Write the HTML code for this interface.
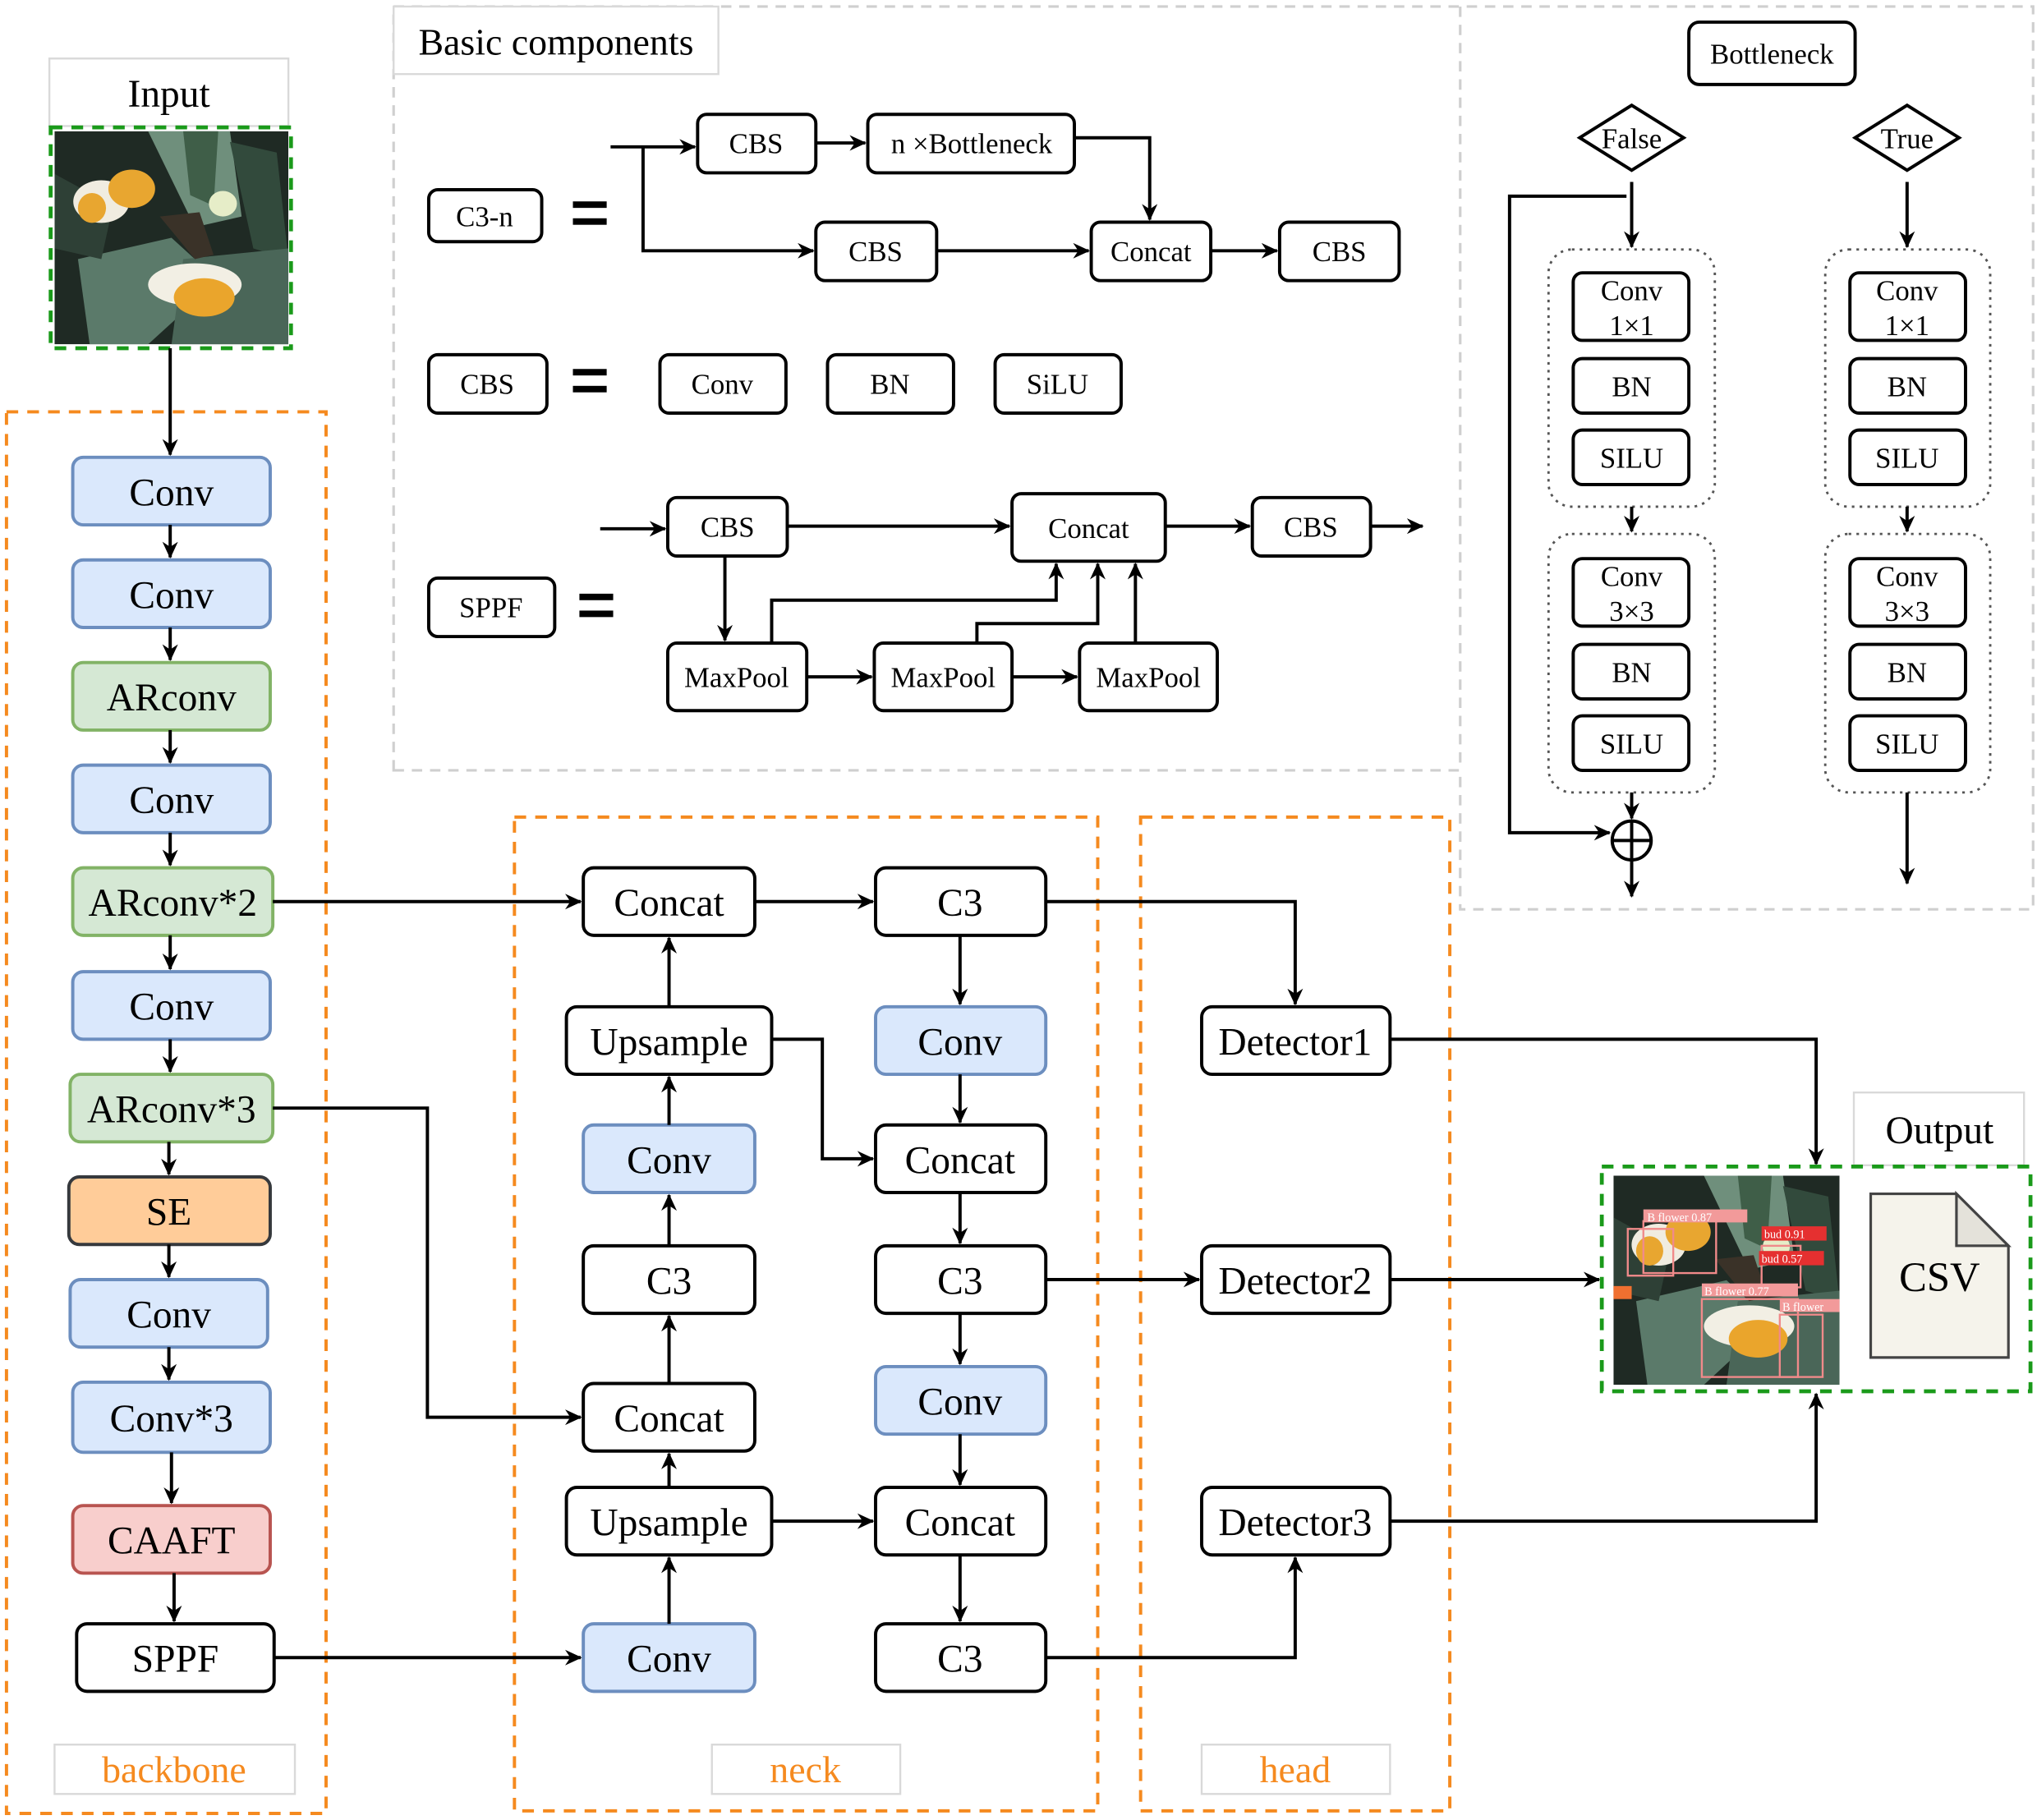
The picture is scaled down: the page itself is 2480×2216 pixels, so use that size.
<!DOCTYPE html>
<html><head><meta charset="utf-8"><style>
html,body{margin:0;padding:0;background:#fff;}
svg{display:block;}
text{font-family:"Liberation Serif",serif;fill:#000;}
</style></head><body>
<svg width="2480" height="2216" viewBox="0 0 1568 1401" xmlns="http://www.w3.org/2000/svg">
<defs>
<marker id="a" markerWidth="14" markerHeight="14" refX="12" refY="6" orient="auto" markerUnits="userSpaceOnUse">
<path d="M0,0 L13,6 L0,12 L4,6 Z" fill="#000"/>
</marker>
<symbol id="photo" viewBox="0 0 100 100" preserveAspectRatio="none">
<rect width="100" height="100" fill="#1f2a24"/>
<path d="M40,0 L75,0 L80,40 L60,45 Z" fill="#6f8f7c"/>
<path d="M55,0 L70,0 L68,35 L58,30 Z" fill="#3f5e48"/>
<path d="M75,5 L95,10 L100,60 L85,55 Z" fill="#324a3c"/>
<path d="M10,60 L50,50 L70,70 L40,100 L15,100 Z" fill="#5b7a6a"/>
<path d="M55,60 L100,55 L100,100 L50,100 Z" fill="#4a6658"/>
<path d="M0,20 L25,35 L20,60 L0,55 Z" fill="#2e4036"/>
<ellipse cx="20" cy="33" rx="12" ry="10" fill="#f0ece0"/>
<ellipse cx="16" cy="36" rx="6" ry="7" fill="#e8a630"/>
<ellipse cx="33" cy="27" rx="10" ry="9" fill="#e8a630"/>
<ellipse cx="72" cy="34" rx="6" ry="6" fill="#e6edc8"/>
<ellipse cx="60" cy="72" rx="20" ry="10" fill="#f2efe4"/>
<ellipse cx="64" cy="78" rx="13" ry="9" fill="#eaa52c"/>
<path d="M45,40 L62,38 L68,58 L60,60 Z" fill="#3a3228"/>
</symbol>
</defs>

<!-- Basic components region -->
<path d="M303,593 L303,5 L1565,5 L1565,700 L1124,700 L1124,593 Z" fill="none" stroke="#cfcfcf" stroke-width="2" stroke-dasharray="8,6"/>
<line x1="1124" y1="5" x2="1124" y2="593" stroke="#cfcfcf" stroke-width="2" stroke-dasharray="8,6"/>
<rect x="303" y="5" width="250" height="52" fill="#fff" stroke="#d9d9d9" stroke-width="1.5"/>
<text x="428" y="42" font-size="29" text-anchor="middle">Basic components</text>

<g stroke="#000" stroke-width="2.5" fill="#fff">
<rect x="330" y="146" width="87" height="40" rx="7"/>
<rect x="537" y="88" width="91" height="45" rx="7"/>
<rect x="668" y="88" width="159" height="45" rx="7"/>
<rect x="628" y="171" width="93" height="45" rx="7"/>
<rect x="840" y="171" width="92" height="45" rx="7"/>
<rect x="985" y="171" width="92" height="45" rx="7"/>
<rect x="330" y="273" width="91" height="45" rx="7"/>
<rect x="508" y="273" width="97" height="45" rx="7"/>
<rect x="637" y="273" width="97" height="45" rx="7"/>
<rect x="766" y="273" width="97" height="45" rx="7"/>
<rect x="330" y="445" width="97" height="45" rx="7"/>
<rect x="514" y="383" width="92" height="45" rx="7"/>
<rect x="779" y="380" width="118" height="52" rx="7"/>
<rect x="964" y="383" width="91" height="45" rx="7"/>
<rect x="514" y="495" width="107" height="52" rx="7"/>
<rect x="673" y="495" width="106" height="52" rx="7"/>
<rect x="831" y="495" width="106" height="52" rx="7"/>
</g>
<g font-size="22" text-anchor="middle">
<text x="373" y="174">C3-n</text>
<text x="582" y="118">CBS</text>
<text x="748" y="118">n ×Bottleneck</text>
<text x="674" y="201">CBS</text>
<text x="886" y="201">Concat</text>
<text x="1031" y="201">CBS</text>
<text x="375" y="303">CBS</text>
<text x="556" y="303">Conv</text>
<text x="685" y="303">BN</text>
<text x="814" y="303">SiLU</text>
<text x="378" y="475">SPPF</text>
<text x="560" y="413">CBS</text>
<text x="838" y="414">Concat</text>
<text x="1009" y="413">CBS</text>
<text x="567" y="529">MaxPool</text>
<text x="726" y="529">MaxPool</text>
<text x="884" y="529">MaxPool</text>
</g>
<g fill="#000">
<rect x="441" y="155" width="26" height="5"/><rect x="441" y="168" width="26" height="5"/>
<rect x="441" y="284" width="26" height="5"/><rect x="441" y="297" width="26" height="5"/>
<rect x="446" y="457" width="26" height="5"/><rect x="446" y="470" width="26" height="5"/>
</g>
<g stroke="#000" stroke-width="2.5" fill="none" marker-end="url(#a)">
<path d="M470,113 L535,113"/>
<path d="M495,113 L495,193 L626,193"/>
<path d="M628,110 L666,110"/>
<path d="M827,106 L885,106 L885,169"/>
<path d="M721,193 L838,193"/>
<path d="M932,193 L983,193"/>
<path d="M462,407 L512,407"/>
<path d="M606,405 L777,405"/>
<path d="M897,405 L962,405"/>
<path d="M1055,405 L1095,405"/>
<path d="M558,428 L558,493"/>
<path d="M621,521 L671,521"/>
<path d="M779,521 L829,521"/>
<path d="M594,495 L594,462 L813,462 L813,434"/>
<path d="M752,495 L752,480 L845,480 L845,434"/>
<path d="M874,495 L874,434"/>
</g>

<!-- Bottleneck -->
<rect x="1300" y="17" width="128" height="48" rx="8" fill="#fff" stroke="#000" stroke-width="2.5"/>
<text x="1364" y="49" font-size="22" text-anchor="middle">Bottleneck</text>
<g stroke="#000" stroke-width="2.5" fill="#fff">
<path d="M1216,106 L1256,81 L1296,106 L1256,131 Z"/>
<path d="M1428,106 L1468,81 L1508,106 L1468,131 Z"/>
</g>
<text x="1256" y="114" font-size="22" text-anchor="middle">False</text>
<text x="1468" y="114" font-size="22" text-anchor="middle">True</text>
<g stroke="#555" stroke-width="1.8" fill="none" stroke-dasharray="2,4">
<rect x="1192" y="192" width="128" height="198" rx="18"/>
<rect x="1192" y="411" width="128" height="199" rx="18"/>
<rect x="1405" y="192" width="127" height="198" rx="18"/>
<rect x="1405" y="411" width="127" height="199" rx="18"/>
</g>
<g stroke="#000" stroke-width="2.5" fill="#fff">
<rect x="1211" y="210" width="89" height="52" rx="7"/>
<rect x="1211" y="276" width="89" height="42" rx="7"/>
<rect x="1211" y="331" width="89" height="42" rx="7"/>
<rect x="1211" y="430" width="89" height="52" rx="7"/>
<rect x="1211" y="496" width="89" height="42" rx="7"/>
<rect x="1211" y="551" width="89" height="42" rx="7"/>
<rect x="1424" y="210" width="89" height="52" rx="7"/>
<rect x="1424" y="276" width="89" height="42" rx="7"/>
<rect x="1424" y="331" width="89" height="42" rx="7"/>
<rect x="1424" y="430" width="89" height="52" rx="7"/>
<rect x="1424" y="496" width="89" height="42" rx="7"/>
<rect x="1424" y="551" width="89" height="42" rx="7"/>
</g>
<g font-size="22" text-anchor="middle">
<text x="1256" y="231">Conv</text><text x="1256" y="258">1×1</text>
<text x="1256" y="305">BN</text><text x="1256" y="360">SILU</text>
<text x="1256" y="451">Conv</text><text x="1256" y="478">3×3</text>
<text x="1256" y="525">BN</text><text x="1256" y="580">SILU</text>
<text x="1468" y="231">Conv</text><text x="1468" y="258">1×1</text>
<text x="1468" y="305">BN</text><text x="1468" y="360">SILU</text>
<text x="1468" y="451">Conv</text><text x="1468" y="478">3×3</text>
<text x="1468" y="525">BN</text><text x="1468" y="580">SILU</text>
</g>
<g stroke="#000" stroke-width="2.5" fill="none">
<path d="M1256,140 L1256,190" marker-end="url(#a)"/>
<path d="M1256,390 L1256,409" marker-end="url(#a)"/>
<path d="M1256,610 L1256,630" marker-end="url(#a)"/>
<path d="M1252,151 L1162,151 L1162,641 L1239,641" marker-end="url(#a)"/>
<circle cx="1256" cy="647" r="15"/>
<path d="M1241,647 L1271,647 M1256,632 L1256,662"/>
<path d="M1256,662 L1256,690" marker-end="url(#a)"/>
<path d="M1468,140 L1468,190" marker-end="url(#a)"/>
<path d="M1468,390 L1468,409" marker-end="url(#a)"/>
<path d="M1468,610 L1468,680" marker-end="url(#a)"/>
</g>

<!-- Input -->
<rect x="38" y="45" width="184" height="52" fill="#fff" stroke="#d9d9d9" stroke-width="1.5"/>
<text x="130" y="82" font-size="30" text-anchor="middle">Input</text>
<use href="#photo" x="42" y="101" width="180" height="164"/>
<rect x="39" y="98" width="185" height="170" fill="none" stroke="#1a9a1a" stroke-width="3" stroke-dasharray="9,7"/>

<!-- Dashed sections -->
<g fill="none" stroke="#f58a1f" stroke-width="2.5" stroke-dasharray="9,7">
<rect x="5" y="317" width="246" height="1079"/>
<rect x="396" y="629" width="449" height="765"/>
<rect x="878" y="629" width="238" height="765"/>
</g>
<g fill="#fff" stroke="#d9d9d9" stroke-width="1.5">
<rect x="42" y="1343" width="185" height="38"/>
<rect x="548" y="1343" width="145" height="38"/>
<rect x="925" y="1343" width="145" height="38"/>
</g>
<g font-size="29" text-anchor="middle" style="fill:#f58a1f">
<text x="134" y="1372" style="fill:#f58a1f">backbone</text>
<text x="620" y="1372" style="fill:#f58a1f">neck</text>
<text x="997" y="1372" style="fill:#f58a1f">head</text>
</g>

<!-- Backbone boxes -->
<g stroke-width="2.5">
<rect x="56" y="352" width="152" height="52" rx="8" fill="#dae8fc" stroke="#6c8ebf"/>
<rect x="56" y="431" width="152" height="52" rx="8" fill="#dae8fc" stroke="#6c8ebf"/>
<rect x="56" y="510" width="152" height="52" rx="8" fill="#d5e8d4" stroke="#82b366"/>
<rect x="56" y="589" width="152" height="52" rx="8" fill="#dae8fc" stroke="#6c8ebf"/>
<rect x="56" y="668" width="154" height="52" rx="8" fill="#d5e8d4" stroke="#82b366"/>
<rect x="56" y="748" width="152" height="52" rx="8" fill="#dae8fc" stroke="#6c8ebf"/>
<rect x="54" y="827" width="156" height="52" rx="8" fill="#d5e8d4" stroke="#82b366"/>
<rect x="53" y="906" width="155" height="52" rx="8" fill="#ffcc99" stroke="#36393d"/>
<rect x="54" y="985" width="152" height="52" rx="8" fill="#dae8fc" stroke="#6c8ebf"/>
<rect x="56" y="1064" width="152" height="54" rx="8" fill="#dae8fc" stroke="#6c8ebf"/>
<rect x="56" y="1159" width="152" height="52" rx="8" fill="#f8cecc" stroke="#b85450"/>
<rect x="59" y="1250" width="152" height="52" rx="8" fill="#fff" stroke="#000"/>
</g>
<g font-size="30" text-anchor="middle">
<text x="132" y="389">Conv</text>
<text x="132" y="468">Conv</text>
<text x="132" y="547">ARconv</text>
<text x="132" y="626">Conv</text>
<text x="133" y="705">ARconv*2</text>
<text x="132" y="785">Conv</text>
<text x="132" y="864">ARconv*3</text>
<text x="130" y="943">SE</text>
<text x="130" y="1022">Conv</text>
<text x="132" y="1102">Conv*3</text>
<text x="132" y="1196">CAAFT</text>
<text x="135" y="1287">SPPF</text>
</g>
<g stroke="#000" stroke-width="2.5" fill="none" marker-end="url(#a)">
<path d="M131,268 L131,350"/>
<path d="M131,404 L131,429"/>
<path d="M131,483 L131,508"/>
<path d="M131,562 L131,587"/>
<path d="M131,641 L131,666"/>
<path d="M131,720 L131,746"/>
<path d="M131,800 L131,825"/>
<path d="M130,879 L130,904"/>
<path d="M130,958 L130,983"/>
<path d="M130,1037 L130,1062"/>
<path d="M132,1118 L132,1157"/>
<path d="M134,1211 L134,1248"/>
</g>

<!-- Neck boxes -->
<g stroke-width="2.5" stroke="#000" fill="#fff">
<rect x="449" y="668" width="132" height="52" rx="8"/>
<rect x="436" y="775" width="158" height="52" rx="8"/>
<rect x="449" y="866" width="132" height="52" rx="8" fill="#dae8fc" stroke="#6c8ebf"/>
<rect x="449" y="959" width="132" height="52" rx="8"/>
<rect x="449" y="1065" width="132" height="52" rx="8"/>
<rect x="436" y="1145" width="158" height="52" rx="8"/>
<rect x="449" y="1250" width="132" height="52" rx="8" fill="#dae8fc" stroke="#6c8ebf"/>
<rect x="674" y="668" width="131" height="52" rx="8"/>
<rect x="674" y="775" width="131" height="52" rx="8" fill="#dae8fc" stroke="#6c8ebf"/>
<rect x="674" y="866" width="131" height="52" rx="8"/>
<rect x="674" y="959" width="131" height="52" rx="8"/>
<rect x="674" y="1052" width="131" height="52" rx="8" fill="#dae8fc" stroke="#6c8ebf"/>
<rect x="674" y="1145" width="131" height="52" rx="8"/>
<rect x="674" y="1250" width="131" height="52" rx="8"/>
<rect x="925" y="775" width="145" height="52" rx="8"/>
<rect x="925" y="959" width="145" height="52" rx="8"/>
<rect x="925" y="1145" width="145" height="52" rx="8"/>
</g>
<g font-size="30" text-anchor="middle">
<text x="515" y="705">Concat</text>
<text x="515" y="812">Upsample</text>
<text x="515" y="903">Conv</text>
<text x="515" y="996">C3</text>
<text x="515" y="1102">Concat</text>
<text x="515" y="1182">Upsample</text>
<text x="515" y="1287">Conv</text>
<text x="739" y="705">C3</text>
<text x="739" y="812">Conv</text>
<text x="739" y="903">Concat</text>
<text x="739" y="996">C3</text>
<text x="739" y="1089">Conv</text>
<text x="739" y="1182">Concat</text>
<text x="739" y="1287">C3</text>
<text x="997" y="812">Detector1</text>
<text x="997" y="996">Detector2</text>
<text x="997" y="1182">Detector3</text>
</g>
<g stroke="#000" stroke-width="2.5" fill="none" marker-end="url(#a)">
<path d="M210,694 L447,694"/>
<path d="M210,853 L329,853 L329,1091 L447,1091"/>
<path d="M211,1276 L447,1276"/>
<path d="M515,1250 L515,1199"/>
<path d="M515,1145 L515,1119"/>
<path d="M515,1065 L515,1013"/>
<path d="M515,959 L515,920"/>
<path d="M515,866 L515,829"/>
<path d="M515,775 L515,722"/>
<path d="M581,694 L672,694"/>
<path d="M805,694 L997,694 L997,773"/>
<path d="M739,720 L739,773"/>
<path d="M739,827 L739,864"/>
<path d="M739,918 L739,957"/>
<path d="M739,1011 L739,1050"/>
<path d="M739,1104 L739,1143"/>
<path d="M739,1197 L739,1248"/>
<path d="M594,800 L633,800 L633,892 L672,892"/>
<path d="M594,1171 L672,1171"/>
<path d="M805,985 L923,985"/>
<path d="M805,1276 L997,1276 L997,1199"/>
<path d="M1070,800 L1398,800 L1398,896"/>
<path d="M1070,985 L1231,985"/>
<path d="M1070,1171 L1398,1171 L1398,1073"/>
</g>

<!-- Output -->
<rect x="1427" y="841" width="131" height="56" fill="#fff" stroke="#d9d9d9" stroke-width="1.5"/>
<text x="1493" y="880" font-size="30" text-anchor="middle">Output</text>
<use href="#photo" x="1242" y="905" width="174" height="161"/>
<g fill="none" stroke="#f08a8a" stroke-width="1.5">
<rect x="1253" y="946" width="35" height="36"/><rect x="1265" y="940" width="56" height="40"/>
<rect x="1356" y="959" width="30" height="32"/><rect x="1310" y="1000" width="74" height="60"/>
<rect x="1370" y="1012" width="33" height="48"/>
</g>
<g font-family="Liberation Sans" font-size="9">
<rect x="1265" y="931" width="80" height="10" fill="#f29a9a"/><text x="1268" y="940" fill="#fff" style="fill:#fff">B flower 0.87</text>
<rect x="1356" y="944" width="50" height="11" fill="#e53030"/><text x="1358" y="953" style="fill:#fff">bud 0.91</text>
<rect x="1354" y="963" width="50" height="11" fill="#e53030"/><text x="1356" y="972" style="fill:#fff">bud 0.57</text>
<rect x="1310" y="988" width="74" height="10" fill="#f29a9a"/><text x="1312" y="997" style="fill:#fff">B flower 0.77</text>
<rect x="1370" y="1000" width="46" height="10" fill="#f29a9a"/><text x="1372" y="1009" style="fill:#fff">B flower</text>
<rect x="1242" y="990" width="14" height="10" fill="#f07030"/>
</g>
<path d="M1440,919 L1506,919 L1546,959 L1546,1045 L1440,1045 Z" fill="#f5f3eb" stroke="#444" stroke-width="2"/>
<path d="M1506,919 L1506,959 L1546,959 Z" fill="#e4e2da" stroke="#444" stroke-width="2"/>
<text x="1493" y="994" font-size="32" text-anchor="middle">CSV</text>
<rect x="1233" y="898" width="330" height="173" fill="none" stroke="#1a9a1a" stroke-width="3" stroke-dasharray="9,7"/>
</svg>
</body></html>
